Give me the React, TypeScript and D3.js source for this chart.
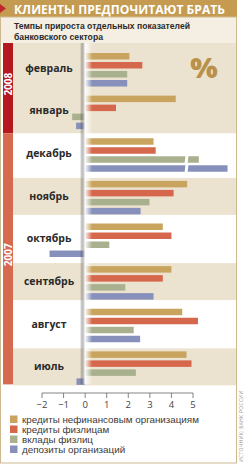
import React from 'react';
import * as d3 from 'd3';

// Months, top to bottom
const months = ['февраль', 'январь', 'декабрь', 'ноябрь', 'октябрь', 'сентябрь', 'август', 'июль'];
const yearLabels = ['2008', '2007'];
const yearMonthCounts = [2, 6];

const seriesNames = [
  'кредиты нефинансовым организациям',
  'кредиты физлицам',
  'вклады физлиц',
  'депозиты организаций',
];
const seriesColors = ['#c9a45e', '#d5674d', '#a8b08e', '#8690ba'];

// growth rates, %
const corpLoans = [2.05, 4.2, 3.17, 4.73, 3.6, 4.0, 4.5, 4.7];
const retailLoans = [2.65, 1.43, 3.27, 4.1, 4.0, 3.6, 5.23, 4.93];
const retailDeposits = [1.95, -0.6, 5.27, 2.98, 1.12, 1.86, 2.25, 2.35];
const corpDeposits = [1.95, -0.42, 6.6, 2.57, -1.65, 3.17, 2.55, -0.4];
const seriesValues = [corpLoans, retailLoans, retailDeposits, corpDeposits];

const ticks = [-2, -1, 0, 1, 2, 3, 4, 5];
const breakValue = 4.7;
const brokenMonth = 'декабрь';
const brokenSeries = ['вклады физлиц', 'депозиты организаций'];

const W = 247;
const H = 465;
const beige = '#ece2d0';
const narrow = '"Liberation Sans", Arial, sans-serif';

const App = () => {
  const x = d3.scaleLinear().domain([-2, 5]).range([42, 193]);
  const yRow = d3.scaleBand<string>().domain(months).range([48, 389]);
  const yBar = d3.scaleBand<string>().domain(seriesNames).range([5, 38.5]).paddingInner(0.28);
  const step = yRow.step();

  // year bands
  let acc = 0;
  const yearBands = yearLabels.map((label, i) => {
    const first = months[acc];
    const last = months[acc + yearMonthCounts[i] - 1];
    acc += yearMonthCounts[i];
    const y0 = i === 0 ? 43 : (yRow(first) as number);
    const y1 = i === 0 ? (yRow(last) as number) + step : (yRow(last) as number) + 38;
    return { label, y0, y1, color: i === 0 ? '#b3191f' : '#d66a4f' };
  });

  const y2008end = yearBands[0].y1;
  const axisY = 393;

  return (
    <div style={{ position: 'absolute', left: 0, top: 0 }}>
      <svg width={W} height={H} style={{ display: 'block', fontFamily: '"Open Sans", "DejaVu Sans", sans-serif' }}>
        <defs>
          <linearGradient id="fold" x1="0" x2="1" y1="0" y2="0">
            <stop offset="0" stopColor="#000" stopOpacity={0.04} />
            <stop offset="0.4" stopColor="#fff" stopOpacity={0.95} />
            <stop offset="1" stopColor="#fff" stopOpacity={0} />
          </linearGradient>
        </defs>
        <rect x={0} y={0} width={W} height={H} fill="#fff" />

        {/* header */}
        <rect x={0} y={0} width={237} height={17} fill="#c49b50" />
        <polygon points="0,4 6,8.5 0,13" fill="#c0272d" />
        <text x={14} y={13.5} fill="#fff" fontSize={12.5} fontWeight={700} textLength={211} lengthAdjust="spacingAndGlyphs">
          КЛИЕНТЫ ПРЕДПОЧИТАЮТ БРАТЬ
        </text>
        <rect x={0.5} y={17} width={236} height={26} fill="#f4eee3" />
        <text x={14} y={29} fill="#2b2b2b" fontSize={9.5} fontWeight={700} fontFamily={narrow} textLength={176} lengthAdjust="spacingAndGlyphs">
          Темпы прироста отдельных показателей
        </text>
        <text x={14} y={40} fill="#2b2b2b" fontSize={9.5} fontWeight={700} fontFamily={narrow} textLength={89} lengthAdjust="spacingAndGlyphs">
          банковского сектора
        </text>

        {/* backgrounds */}
        <rect x={13} y={43} width={223} height={y2008end - 43} fill={beige} />
        {months.map((m, i) =>
          i >= 2 && i % 2 === 1 ? (
            <rect key={m} x={13} y={(yRow(m) as number) + 2} width={223} height={37} fill={beige} />
          ) : null
        )}

        {/* year bands */}
        {yearBands.map((b) => (
          <g key={b.label}>
            <rect x={3} y={b.y0} width={10} height={b.y1 - b.y0} fill={b.color} />
            <text
              transform={`translate(12,${(b.y0 + b.y1) / 2 - 4}) rotate(-90)`}
              textAnchor="middle"
              fill="#fff"
              fontSize={10}
              fontWeight={700}
            >
              {b.label}
            </text>
          </g>
        ))}

        {/* percent sign */}
        <text x={204} y={78} textAnchor="middle" fill="#b8914a" fontSize={29} fontWeight={800}>
          %
        </text>

        {/* bars */}
        {months.map((m, i) => (
          <g key={m} transform={`translate(0,${yRow(m)})`}>
            {seriesNames.map((s, j) => {
              const v = seriesValues[j][i];
              const x0 = x(Math.min(0, v));
              const x1 = x(Math.max(0, v));
              const by = yBar(s) as number;
              const bh = yBar.bandwidth();
              const broken = m === brokenMonth && brokenSeries.includes(s);
              return (
                <g key={s}>
                  <rect x={x0} y={by} width={x1 - x0} height={bh} fill={seriesColors[j]} />
                  {broken && (
                    <polygon
                      points={`${x(breakValue) - 1},${by - 1} ${x(breakValue) + 2},${by - 1} ${x(breakValue) + 1},${by + bh + 1} ${x(breakValue) - 2},${by + bh + 1}`}
                      fill="#fff"
                    />
                  )}
                </g>
              );
            })}
            <text x={49} y={yBar.range()[0] + 16} textAnchor="middle" dominantBaseline="middle" fill="#2a2a2a" fontSize={10.5} fontWeight={700}>
              {m}
            </text>
          </g>
        ))}

        {/* fold shadow at zero */}
        <rect x={x(0) - 5} y={43} width={12} height={yearBands[1].y1 - 43} fill="url(#fold)" />

        {/* axis */}
        <line x1={x(-2)} x2={x(5)} y1={axisY} y2={axisY} stroke="#666" strokeWidth={0.8} />
        {ticks.map((t) => (
          <g key={t}>
            <line x1={x(t)} x2={x(t)} y1={axisY} y2={axisY + 5} stroke="#666" strokeWidth={0.8} />
            <text x={x(t)} y={axisY + 15} textAnchor="middle" fill="#444" fontSize={9.5}>
              {t < 0 ? `−${Math.abs(t)}` : t}
            </text>
          </g>
        ))}

        {/* legend */}
        {seriesNames.map((s, j) => (
          <g key={s} transform={`translate(10,${415.5 + j * 10})`}>
            <rect x={0} y={0} width={7.5} height={7.5} fill={seriesColors[j]} />
            <text x={12} y={7.5} fill="#3a3a3a" fontSize={9.8} fontFamily={narrow}>
              {s}
            </text>
          </g>
        ))}

        {/* frame */}
        <rect x={0.5} y={17} width={236} height={446} fill="none" stroke="#cdb98f" strokeWidth={1} />

        {/* source */}
        <text transform="translate(243,462) rotate(-90)" fill="#999" fontSize={5} letterSpacing={0.3}>
          ИСТОЧНИК: БАНК РОССИИ
        </text>
      </svg>
    </div>
  );
};

export default App;
